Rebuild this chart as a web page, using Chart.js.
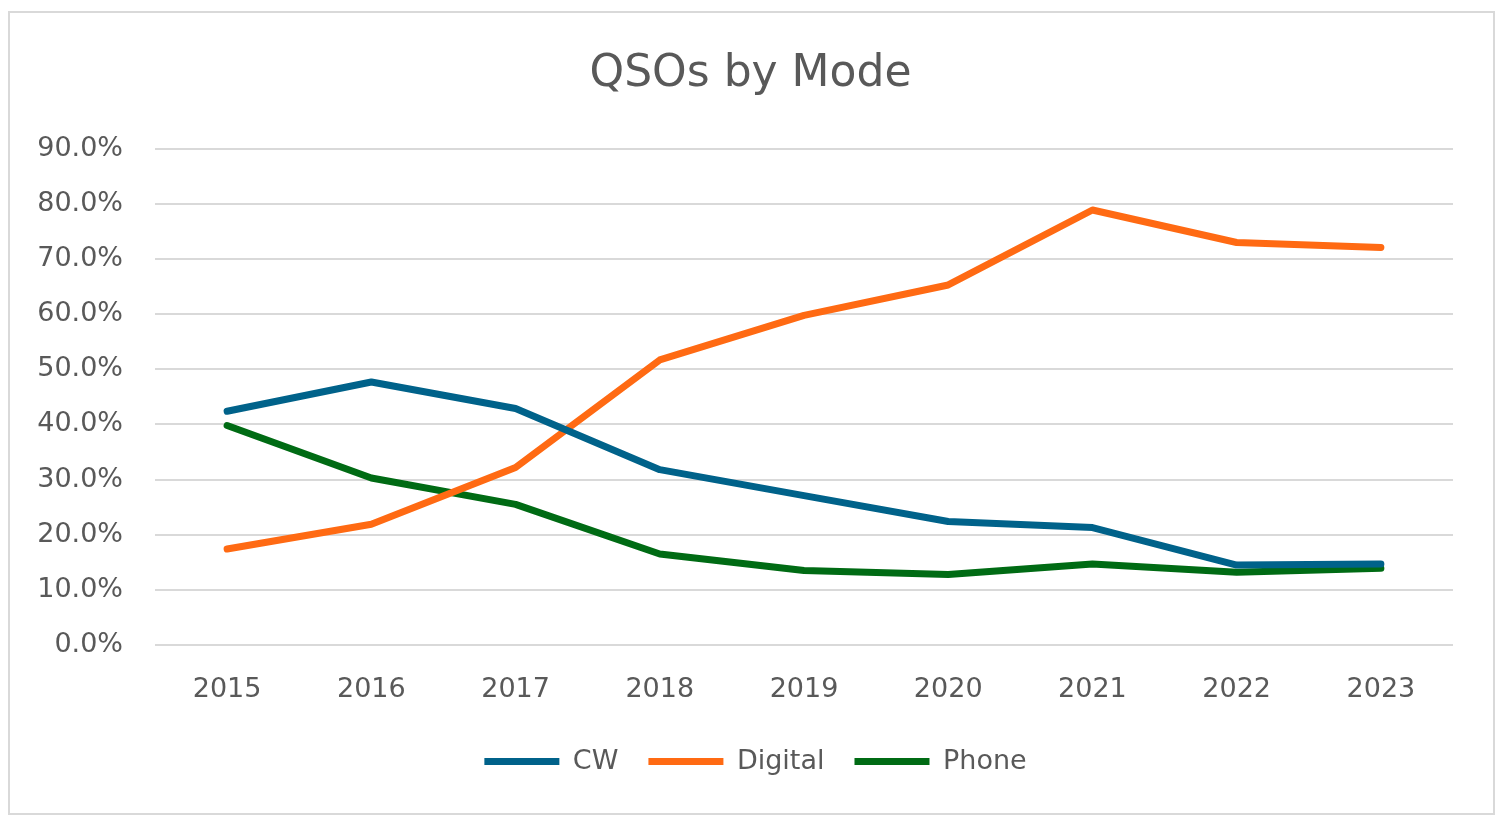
<!DOCTYPE html>
<html>
<head>
<meta charset="utf-8">
<script src="https://cdn.jsdelivr.net/npm/chart.js@4/dist/chart.umd.min.js"></script>
<style>
  body { margin: 0; background: #fff; }
  #frame { position: absolute; left: 8px; top: 11px; width: 1483px; height: 800px; border: 2px solid #d9d9d9; }
  #wrap { position: absolute; left: 0; top: 0; width: 1498px; height: 820px; }
</style>
</head>
<body>
<div id="frame"></div>
<div id="wrap"><canvas id="mode-chart"></canvas></div>
<script>
// QSOs by mode, share of total (%)
var years = ['2015', '2016', '2017', '2018', '2019', '2020', '2021', '2022', '2023'];
var cw = [42.4, 47.7, 42.9, 31.8, 27.1, 22.4, 21.3, 14.5, 14.7];
var digital = [17.4, 21.9, 32.2, 51.7, 59.8, 65.3, 78.9, 73.0, 72.1];
var phone = [39.8, 30.3, 25.5, 16.5, 13.5, 12.8, 14.7, 13.2, 13.9];

var textColor = '#595959';
var fontFamily = "'DejaVu Sans', sans-serif";

function series(label, data, color) {
  return {
    label: label,
    data: data,
    borderColor: color,
    backgroundColor: color,
    borderWidth: 7,
    borderCapStyle: 'round',
    borderJoinStyle: 'round',
    pointRadius: 0,
    tension: 0
  };
}

// nudge title and legend so they sit centred on the page, not on the padded area
var centreBoxes = {
  id: 'centreBoxes',
  afterLayout: function (chart) {
    chart.legend.left += 29;
    chart.legend.right += 29;
    chart.titleBlock.left += 24;
    chart.titleBlock.right += 24;
  }
};

var ctx = document.getElementById('mode-chart').getContext('2d');
new Chart(ctx, {
  type: 'line',
  data: {
    labels: years,
    datasets: [
      series('CW', cw, '#00628a'),
      series('Digital', digital, '#ff6a13'),
      series('Phone', phone, '#006b14')
    ]
  },
  plugins: [centreBoxes],
  options: {
    responsive: true,
    maintainAspectRatio: false,
    animation: false,
    layout: { padding: { left: 0, right: 45, top: 0, bottom: 35 } },
    plugins: {
      title: {
        display: true,
        text: 'QSOs by Mode',
        color: textColor,
        font: { family: fontFamily, size: 44, weight: 'normal' },
        padding: { top: 48, bottom: 48 }
      },
      legend: {
        display: true,
        position: 'bottom',
        labels: {
          color: textColor,
          font: { family: fontFamily, size: 27 },
          usePointStyle: true,
          pointStyle: 'line',
          pointStyleWidth: 75,
          padding: 30
        }
      },
      tooltip: { enabled: false }
    },
    scales: {
      x: {
        offset: true,
        grid: { display: false, drawTicks: false },
        border: { display: false },
        ticks: {
          color: textColor,
          font: { family: fontFamily, size: 27 },
          padding: 29,
          maxRotation: 0
        },
        afterFit: function (scale) { scale.height = 73; }
      },
      y: {
        min: 0,
        max: 90,
        grid: { color: '#d9d9d9', lineWidth: 2, drawTicks: false },
        border: { display: false },
        ticks: {
          stepSize: 10,
          color: textColor,
          font: { family: fontFamily, size: 27 },
          padding: 32,
          callback: function (v) { return v.toFixed(1) + '%'; }
        },
        afterFit: function (scale) { scale.width = 155; }
      }
    }
  }
});
</script>
</body>
</html>
